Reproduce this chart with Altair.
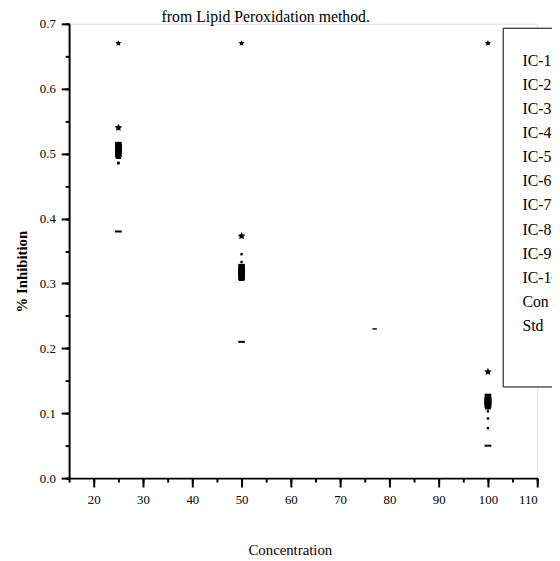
import altair as alt
import pandas as pd

# ---- data ----
concentrations = [25, 50, 100]
series = ["IC-1", "IC-2", "IC-3", "IC-4", "IC-5", "IC-6", "IC-7", "IC-8",
          "IC-9", "IC-10", "Con", "Std"]
ic1 = [0.510, 0.320, 0.120]
ic2 = [0.505, 0.315, 0.118]
ic3 = [0.500, 0.310, 0.115]
ic4 = [0.513, 0.325, 0.125]
ic5 = [0.496, 0.308, 0.110]
ic6 = [0.486, 0.333, 0.103]
ic7 = [0.540, 0.373, 0.164]
ic8 = [0.508, 0.318, 0.113]
ic9 = [0.485, 0.345, 0.092]
ic10 = [0.498, 0.312, 0.077]
con = [0.380, 0.210, 0.050]
std = [0.670, 0.670, 0.670]
stray_x = [77]
stray_y = [0.23]

x_ticks = [20, 30, 40, 50, 60, 70, 80, 90, 100, 110]
x_minor = [15, 20, 25, 30, 35, 40, 45, 50, 55, 60, 65, 70, 75, 80, 85, 90, 95, 100, 105, 110]
y_ticks = [0.0, 0.1, 0.2, 0.3, 0.4, 0.5, 0.6, 0.7]
y_minor = [0.0, 0.05, 0.1, 0.15, 0.2, 0.25, 0.3, 0.35, 0.4, 0.45, 0.5, 0.55, 0.6, 0.65, 0.7]
legend_rows = series + [" ", "  "]

# marker outlines, drawn at the default point size (unit ~2.74 px)
STAR = "M0,-1.46L0.42,-0.58L1.39,-0.45L0.7,0.22L0.86,1.18L0,0.73L-0.86,1.18L-0.7,0.22L-1.39,-0.45L-0.42,-0.58Z"
STAR_S = "M0,-1.17L0.34,-0.46L1.11,-0.36L0.56,0.18L0.69,0.94L0,0.58L-0.69,0.94L-0.56,0.18L-1.11,-0.36L-0.34,-0.46Z"
SQ = "M-1.24,-1.24H1.24V1.24H-1.24Z"
SQ_S = "M-1.02,-1.02H1.02V1.02H-1.02Z"
DOT = "M-0.44,-0.44H0.44V0.44H-0.44Z"
DASH = "M-1.24,-0.37H1.24V0.37H-1.24Z"
BLANK = "M0,0Z"
shape_range = [SQ, SQ, SQ, SQ, SQ_S, DOT, STAR, SQ, DOT, DOT, DASH, STAR_S, BLANK, BLANK]

vals = [ic1, ic2, ic3, ic4, ic5, ic6, ic7, ic8, ic9, ic10, con, std]
rows = []
for name, v in zip(series, vals):
    for c, y in zip(concentrations, v):
        rows.append({"Concentration": c, "Inhibition": y, "Series": name})
df = pd.DataFrame(rows)
stray = pd.DataFrame({"Concentration": stray_x, "Inhibition": stray_y})

FONT = "Liberation Serif"
xscale = alt.Scale(domain=[15, 110], nice=False, zero=False)
yscale = alt.Scale(domain=[0, 0.7], nice=False, zero=False)

points = alt.Chart(df).mark_point(filled=True, opacity=1, color="black").encode(
    x=alt.X("Concentration:Q", scale=xscale,
            axis=alt.Axis(values=x_ticks, title="Concentration", grid=False,
                          domainColor="black", domainWidth=2, tickColor="black",
                          tickWidth=2, tickSize=9, labelFont=FONT, labelFontSize=13,
                          labelColor="black", labelPadding=7, titleFont=FONT,
                          titleFontSize=15, titleFontWeight="normal", titleColor="black",
                          titlePadding=36, titleX=224, orient="bottom")),
    y=alt.Y("Inhibition:Q", scale=yscale,
            axis=alt.Axis(values=y_ticks, title="% Inhibition", grid=False, format=".1f",
                          domainColor="black", domainWidth=2, tickColor="black",
                          tickWidth=2, tickSize=8, labelFont=FONT, labelFontSize=13,
                          labelColor="black", labelPadding=6, titleFont=FONT,
                          titleFontSize=15, titleFontWeight="bold", titleColor="black",
                          titlePadding=10, titleY=251, orient="left")),
    shape=alt.Shape("Series:N", scale=alt.Scale(domain=legend_rows, range=shape_range),
                    legend=alt.Legend(title=" ", orient="none", legendX=440, legendY=4,
                                      strokeColor="black", fillColor="white", padding=4,
                                      labelFont=FONT, labelFontSize=16, labelColor="black",
                                      titleFontSize=16, titlePadding=6,
                                      symbolSize=1, symbolOpacity=0, symbolStrokeWidth=0,
                                      symbolFillColor="white",
                                      labelOffset=0, rowPadding=8.4, values=legend_rows)),
)

stray_layer = alt.Chart(stray).mark_point(filled=True, opacity=1, color="black",
                                          shape=DASH, size=14).encode(
    x=alt.X("Concentration:Q", scale=xscale, axis=None),
    y=alt.Y("Inhibition:Q", scale=yscale, axis=None),
)

minor = alt.Chart(stray).mark_point(opacity=0).encode(
    x=alt.X("Concentration:Q", scale=xscale,
            axis=alt.Axis(values=x_minor, labels=False, domain=False, grid=False, title=None,
                          tickColor="black", tickWidth=2, tickSize=4, orient="bottom")),
    y=alt.Y("Inhibition:Q", scale=yscale,
            axis=alt.Axis(values=y_minor, labels=False, domain=False, grid=False, title=None,
                          tickColor="black", tickWidth=2, tickSize=4, orient="left")),
)

chart = alt.layer(points, stray_layer, minor).resolve_axis(
    x="independent", y="independent"
).properties(
    width=475, height=461,
    title=alt.TitleParams("from Lipid Peroxidation method.", font=FONT, fontSize=16,
                          fontWeight="normal", color="black", offset=0, dx=-38, dy=7),
    autosize=alt.AutoSizeParams(type="none"),
    padding={"left": 62, "top": 12, "right": 15, "bottom": 78},
).configure_view(stroke=None).configure(background="white")

chart.save("out.html", embed_options={"renderer": "svg", "actions": False})
